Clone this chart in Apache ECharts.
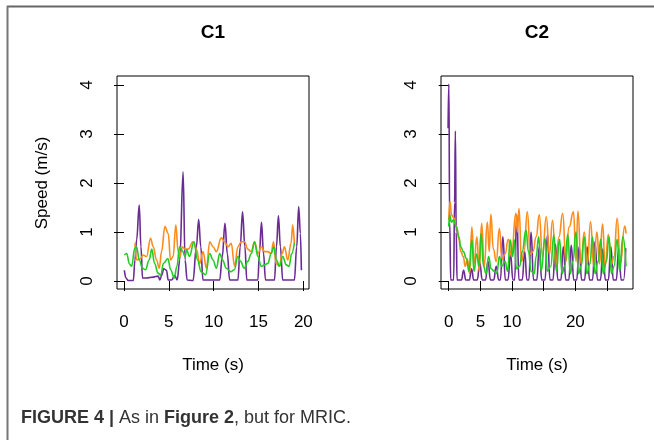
<!DOCTYPE html>
<html>
<head>
<meta charset="utf-8">
<script src="https://cdn.jsdelivr.net/npm/echarts@6/dist/echarts.min.js"></script>
<style>
  html, body { margin: 0; padding: 0; background: #fff; }
  #main { width: 654px; height: 440px; }
</style>
</head>
<body>
<div id="main"></div>
<script>
// tick labels
var c1Ticks = [0, 5, 10, 15, 20];
var c2Ticks = [0, 5, 10, 15, 20, 25];
var c2Labels = [0, 5, 10, 20];
var yTicks = [0, 1, 2, 3, 4];

// C1: [time (s), speed (m/s)]
var c1Purple = [[0.04,0.22],[0.22,0.06],[0.48,0.01],[1.04,0.01],[1.22,0.43],[1.41,0.84],[1.7,1.55],[1.89,0.7],[2.07,0.06],[2.5,0.06],[3.26,0.08],[3.81,0.1],[4.0,0.02],[4.19,0.11],[4.44,0.25],[4.74,0.22],[4.93,0.02],[5.3,0.02],[5.67,0.11],[5.93,0.02],[6.22,0.43],[6.59,2.23],[6.81,0.43],[7.04,0.02],[7.7,0.01],[8.07,0.7],[8.33,1.26],[8.56,0.7],[8.81,0.02],[10.67,0.02],[10.96,0.5],[11.26,1.18],[11.52,0.56],[11.78,0.02],[12.7,0.02],[12.96,0.7],[13.22,1.41],[13.48,0.7],[13.7,0.02],[14.93,0.02],[15.1,0.56],[15.33,1.2],[15.56,0.56],[15.78,0.02],[16.78,0.02],[17.0,0.7],[17.22,1.33],[17.44,0.7],[17.7,0.02],[19.0,0.02],[19.26,0.7],[19.48,1.52],[19.67,0.97],[19.78,0.22]];
var c1Orange = [[1.22,0.77],[1.41,0.43],[1.78,0.45],[2.15,0.53],[2.52,0.5],[2.96,0.87],[3.26,0.7],[3.63,0.43],[3.93,0.26],[4.19,0.6],[4.56,1.11],[4.93,0.97],[5.19,0.43],[5.48,0.5],[5.78,1.14],[6.04,0.6],[6.22,0.5],[6.52,0.7],[6.78,0.65],[7.15,0.65],[7.7,0.8],[8.07,0.65],[8.44,0.36],[8.81,0.6],[9.19,0.26],[9.56,0.8],[9.93,0.7],[10.3,0.6],[10.85,0.88],[11.22,0.8],[11.6,0.7],[11.96,0.77],[12.33,0.3],[12.7,0.7],[13.07,0.8],[13.44,0.8],[13.81,0.65],[14.19,0.6],[14.56,0.8],[14.93,0.56],[15.3,0.7],[15.67,0.6],[16.04,0.6],[16.41,0.56],[16.67,0.8],[16.96,0.36],[17.33,0.3],[17.63,0.56],[17.89,0.7],[18.26,0.43],[18.63,0.77],[18.81,1.14],[19.0,0.77]];
var c1Green = [[0.04,0.53],[0.3,0.56],[0.6,0.35],[0.85,0.3],[1.2,0.67],[1.4,0.7],[1.7,0.43],[2.07,0.26],[2.4,0.23],[2.8,0.43],[3.1,0.65],[3.4,0.36],[3.8,0.16],[4.1,0.12],[4.4,0.36],[4.9,0.46],[5.2,0.23],[5.6,0.06],[5.9,0.3],[6.2,0.7],[6.5,0.62],[6.8,0.5],[7.0,0.63],[7.3,0.5],[7.8,0.8],[8.2,0.43],[8.6,0.19],[9.1,0.13],[9.56,0.56],[9.93,0.43],[10.3,0.26],[10.67,0.56],[11.0,0.43],[11.4,0.26],[11.9,0.19],[12.3,0.23],[12.7,0.5],[13.0,0.4],[13.4,0.26],[13.8,0.4],[14.2,0.56],[14.56,0.8],[14.93,0.5],[15.3,0.3],[15.67,0.33],[16.04,0.36],[16.41,0.56],[16.7,0.7],[17.0,0.43],[17.33,0.3],[17.7,0.5],[18.1,0.33],[18.4,0.3],[18.7,0.56],[19.0,0.78]];

// C2
var c2Purple = [[-0.1,3.12],[0.02,4.02],[0.15,1.2],[0.32,0.02],[0.78,0.02],[0.92,1.6],[1.05,3.06],[1.18,1.0],[1.32,0.02],[2.0,0.02],[2.35,0.22],[2.7,0.02],[3.25,0.02],[3.6,0.25],[3.95,0.02],[4.5,0.02],[4.9,0.37],[5.3,0.02],[5.8,0.02],[6.2,0.4],[6.6,0.02],[7.1,0.02],[7.5,0.3],[7.9,0.02],[8.15,0.02],[8.55,0.9],[8.95,0.02],[9.35,0.02],[9.75,0.55],[10.15,0.02],[10.4,0.02],[10.75,1.35],[11.1,0.02],[11.6,0.02],[12.0,0.6],[12.35,0.02],[12.65,0.02],[13.0,1.0],[13.4,0.02],[13.9,0.02],[14.3,0.7],[14.7,0.02],[15.2,0.02],[15.6,0.95],[16.0,0.02],[16.45,0.02],[16.85,0.75],[17.25,0.02],[17.7,0.02],[18.1,0.7],[18.5,0.02],[18.95,0.02],[19.35,0.73],[19.75,0.02],[20.2,0.02],[20.6,0.7],[21.0,0.02],[21.45,0.02],[21.85,0.7],[22.25,0.02],[22.7,0.02],[23.1,0.8],[23.5,0.02],[23.95,0.02],[24.35,0.65],[24.75,0.02],[25.2,0.02],[25.6,0.7],[26.0,0.02],[26.45,0.02],[26.85,0.65],[27.25,0.02],[27.6,0.02],[27.95,0.67]];
var c2Orange = [[0.0,1.25],[0.2,1.62],[0.45,1.35],[0.75,1.3],[1.25,1.1],[1.6,0.85],[1.9,0.6],[2.3,0.5],[2.6,0.3],[2.95,0.45],[3.3,0.15],[3.65,1.1],[4.0,0.35],[4.45,0.9],[4.8,0.2],[5.2,1.18],[5.6,0.3],[6.1,1.2],[6.4,0.6],[6.65,1.36],[7.05,0.65],[7.5,0.4],[8.0,1.07],[8.4,0.45],[8.9,0.55],[9.4,0.85],[9.9,0.5],[10.6,1.38],[10.85,1.0],[11.1,1.48],[11.5,0.4],[11.9,0.6],[12.4,1.41],[12.9,0.55],[13.3,0.6],[13.8,0.9],[14.3,1.35],[14.8,0.5],[15.4,1.31],[15.9,0.55],[16.4,1.24],[16.9,0.3],[17.4,0.9],[18.0,1.38],[18.5,0.4],[19.0,1.1],[19.7,1.41],[20.1,0.4],[20.4,1.43],[20.9,0.35],[21.4,1.0],[21.9,0.35],[22.4,1.21],[22.9,0.3],[23.4,1.0],[23.8,0.35],[24.3,1.16],[24.7,0.3],[25.2,0.95],[25.7,0.35],[26.1,0.5],[26.6,1.28],[27.1,0.35],[27.8,1.12],[28.0,0.97]];
var c2Green = [[0.0,1.11],[0.15,1.34],[0.45,1.2],[0.75,1.25],[1.2,1.11],[1.6,0.9],[1.9,0.7],[2.3,0.6],[2.8,0.46],[3.2,0.2],[3.64,0.84],[4.0,0.2],[4.4,0.55],[4.8,0.3],[5.1,0.97],[5.5,0.3],[5.9,0.15],[6.3,0.5],[6.7,0.25],[7.2,0.2],[7.6,0.16],[8.0,0.5],[8.4,0.3],[8.9,0.4],[9.3,0.2],[9.7,0.84],[10.1,0.5],[10.35,0.84],[10.7,0.25],[11.2,0.3],[11.6,0.6],[12.2,1.04],[12.6,0.6],[13.0,0.2],[13.5,0.15],[13.8,0.5],[14.2,0.9],[14.6,0.2],[15.2,0.87],[15.6,0.2],[16.1,0.3],[16.6,0.94],[17.0,0.2],[17.5,0.85],[17.9,0.15],[18.3,0.3],[18.8,0.95],[19.2,0.15],[19.6,0.4],[20.1,1.0],[20.5,0.15],[20.9,0.3],[21.4,0.9],[21.8,0.15],[22.3,0.35],[22.7,0.9],[23.1,0.15],[23.6,0.4],[24.0,0.85],[24.4,0.15],[24.9,0.4],[25.3,0.9],[25.7,0.15],[26.1,0.3],[26.6,0.85],[27.0,0.2],[27.5,0.9],[28.0,0.3]];

var purple = '#6b2a94', orange = '#ff8c1a', green = '#22cc22';
var font = '"Liberation Sans", Arial, Helvetica, sans-serif';

var chart = echarts.init(document.getElementById('main'));

function xAx(grid, min, max, ticks, labels) {
  return {
    type: 'value', gridIndex: grid, min: min, max: max,
    axisLine: { show: false },
    axisTick: { show: true, length: 10, customValues: ticks, lineStyle: { color: '#000', width: 1 } },
    axisLabel: { customValues: labels, margin: 25, fontSize: 17, color: '#000', fontFamily: font },
    splitLine: { show: false }
  };
}
function yAx(grid) {
  return {
    type: 'value', gridIndex: grid, min: -0.163, max: 4.184,
    axisLine: { show: false },
    axisTick: { show: true, length: 10, customValues: yTicks, lineStyle: { color: '#000', width: 1 } },
    axisLabel: { customValues: yTicks, rotate: 90, margin: 21, fontSize: 17, color: '#000', fontFamily: font },
    splitLine: { show: false }
  };
}
function line(name, data, color, idx, sm) {
  return {
    name: name, type: 'line', xAxisIndex: idx, yAxisIndex: idx, data: data,
    showSymbol: false, smooth: sm, smoothMonotone: 'x',
    lineStyle: { color: color, width: 1.6 }, animation: false
  };
}

chart.setOption({
  backgroundColor: '#fff',
  animation: false,
  grid: [
    { left: 117, top: 76, width: 192, height: 213, show: true, borderColor: '#000', borderWidth: 1, backgroundColor: 'transparent' },
    { left: 441, top: 76, width: 192, height: 213, show: true, borderColor: '#000', borderWidth: 1, backgroundColor: 'transparent' }
  ],
  xAxis: [
    xAx(0, -0.78, 20.63, c1Ticks, c1Ticks),
    xAx(1, -1.22, 29.1, c2Ticks, c2Labels)
  ],
  yAxis: [yAx(0), yAx(1)],
  series: [
    line('C1 purple', c1Purple, purple, 0, 0.4),
    line('C1 orange', c1Orange, orange, 0, 0.4),
    line('C1 green', c1Green, green, 0, 0.4),
    line('C2 purple', c2Purple, purple, 1, 0.5),
    line('C2 orange', c2Orange, orange, 1, 0.5),
    line('C2 green', c2Green, green, 1, 0.5)
  ],
  graphic: [
    { type: 'line', shape: { x1: 7, y1: 6.5, x2: 654, y2: 6.5 }, style: { stroke: '#666', lineWidth: 2 } },
    { type: 'line', shape: { x1: 7.5, y1: 6, x2: 7.5, y2: 440 }, style: { stroke: '#777', lineWidth: 2 } },
    { type: 'text', x: 213, y: 33, style: { text: 'C1', font: 'bold 19px ' + font, fill: '#000', textAlign: 'center', textVerticalAlign: 'middle' } },
    { type: 'text', x: 537, y: 33, style: { text: 'C2', font: 'bold 19px ' + font, fill: '#000', textAlign: 'center', textVerticalAlign: 'middle' } },
    { type: 'text', x: 213, y: 365, style: { text: 'Time (s)', font: '17px ' + font, fill: '#000', textAlign: 'center', textVerticalAlign: 'middle' } },
    { type: 'text', x: 537, y: 365, style: { text: 'Time (s)', font: '17px ' + font, fill: '#000', textAlign: 'center', textVerticalAlign: 'middle' } },
    { type: 'text', x: 42, y: 183, rotation: Math.PI / 2, style: { text: 'Speed (m/s)', font: '17px ' + font, fill: '#000', textAlign: 'center', textVerticalAlign: 'middle' } },
    { type: 'text', x: 21, y: 418, style: {
        text: '{b|FIGURE 4 |} As in {b|Figure 2}, but for MRIC.',
        font: '18px ' + font, fill: '#333', textVerticalAlign: 'middle',
        rich: { b: { fontWeight: 'bold', fontSize: 18, fontFamily: font, fill: '#333' } }
    } }
  ]
});
</script>
</body>
</html>
